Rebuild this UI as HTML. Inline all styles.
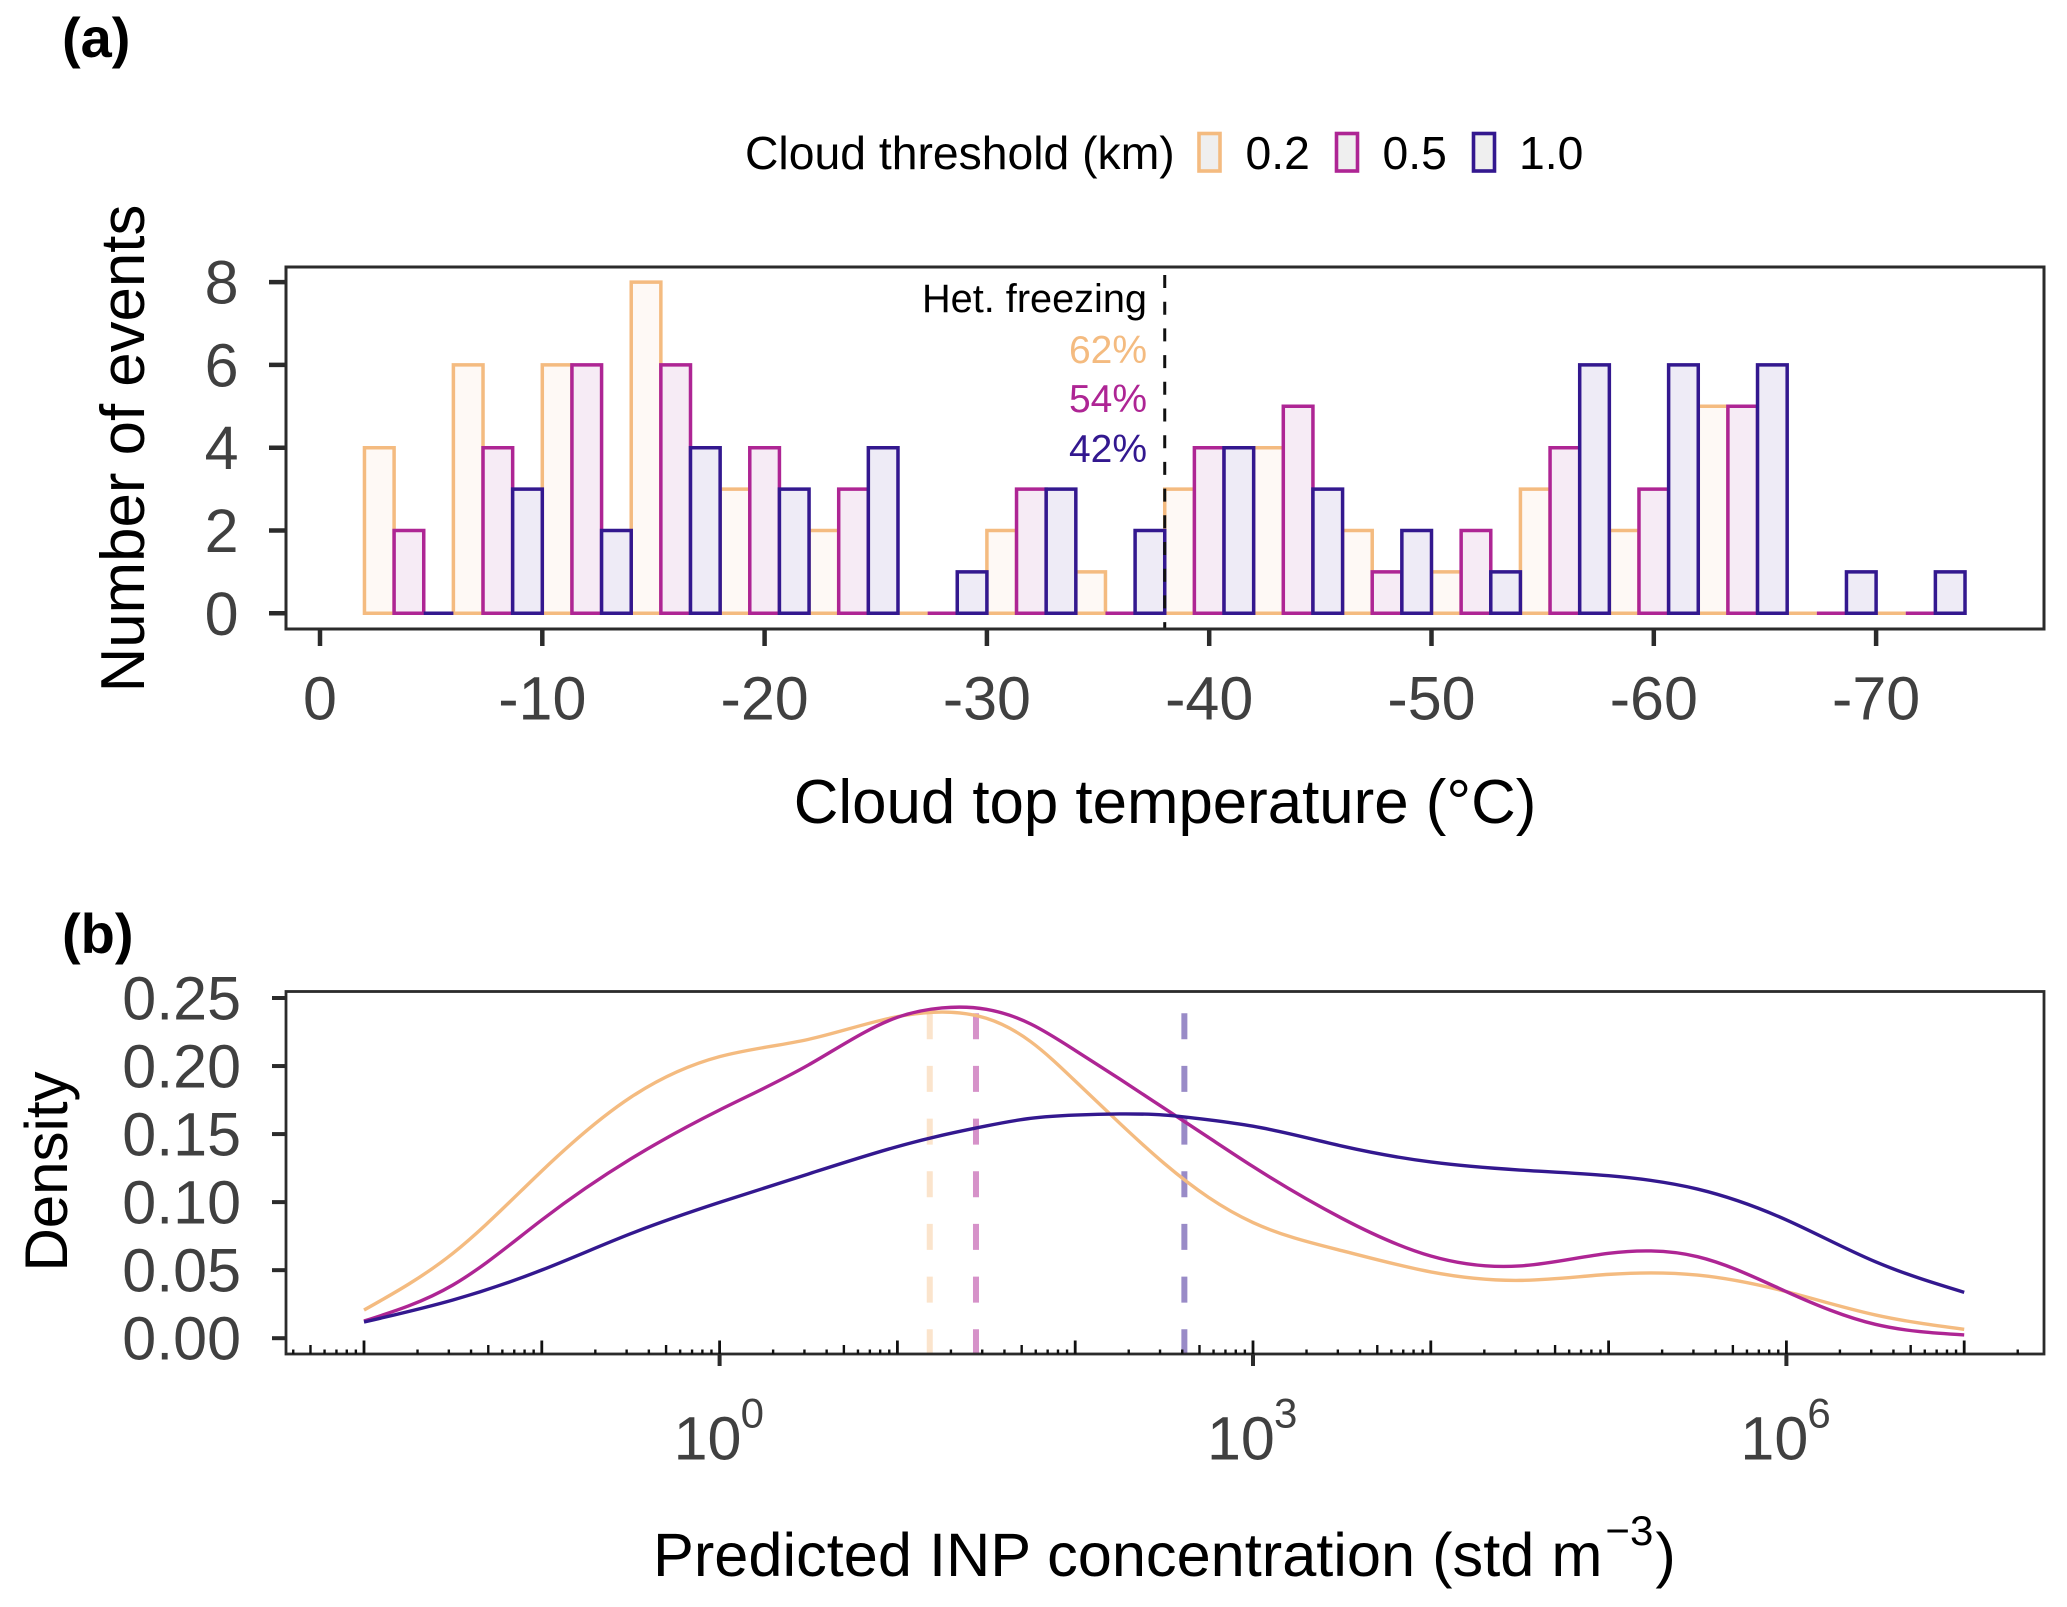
<!DOCTYPE html>
<html lang="en">
<head>
<meta charset="utf-8">
<title>Cloud top temperature and predicted INP concentration</title>
<style>
html,body{margin:0;padding:0;background:#fff;}
svg{display:block;}
text{font-family:"Liberation Sans",Arial,sans-serif;}
</style>
</head>
<body>
<svg id="chart" xmlns="http://www.w3.org/2000/svg" width="2067" height="1607" viewBox="0 0 2067 1607">
  <rect x="0" y="0" width="2067" height="1607" fill="#fff"/>
  <text x="62" y="57" font-size="56" font-weight="bold" fill="#000">(a)</text>
  <text x="62" y="953" font-size="56" font-weight="bold" fill="#000">(b)</text>

  <g>
    <text x="745" y="169" font-size="46.3" fill="#000">Cloud threshold (km)</text>
    <rect x="1199" y="133.5" width="21" height="37.5" fill="#efefef" stroke="#f4bb80" stroke-width="3.6"/>
    <text x="1245.5" y="169" font-size="46.3" fill="#000">0.2</text>
    <rect x="1336.5" y="133.5" width="21" height="37.5" fill="#efefef" stroke="#ae2594" stroke-width="3.6"/>
    <text x="1382.5" y="169" font-size="46.3" fill="#000">0.5</text>
    <rect x="1473.5" y="133.5" width="21" height="37.5" fill="#efefef" stroke="#33188f" stroke-width="3.6"/>
    <text x="1519" y="169" font-size="46.3" fill="#000">1.0</text>
  </g>

  <g id="panelA"></g>

  <g text-anchor="end" font-size="39">
    <text x="1147" y="312" font-size="39.7" fill="#000">Het. freezing</text>
    <text x="1147" y="363" fill="#f4bb80">62%</text>
    <text x="1147" y="412" fill="#ae2594">54%</text>
    <text x="1147" y="462" fill="#33188f">42%</text>
  </g>

  <text transform="translate(144,448.5) rotate(-90)" text-anchor="middle" font-size="61.8" fill="#000">Number of events</text>
  <text x="1165" y="823" text-anchor="middle" font-size="61.8" fill="#000">Cloud top temperature (°C)</text>

  <g id="panelB"></g>

  <text transform="translate(67,1171.5) rotate(-90)" text-anchor="middle" font-size="60" fill="#000">Density</text>
  <text x="653" y="1576" font-size="61.3" fill="#000">Predicted INP concentration (std m<tspan font-size="42" dx="3" dy="-31">−3</tspan><tspan font-size="61.3" dx="2" dy="31">)</tspan></text>
</svg>

<script>
// ---------- Panel (a) data ----------
var binCentres = [-4,-8,-12,-16,-20,-24,-28,-32,-36,-40,-44,-48,-52,-56,-60,-64,-68,-72];
var counts02 = [4,6,6,8,3,2,0,2,1,3,4,2,1,3,2,5,0,0];
var counts05 = [2,4,6,6,4,3,0,3,0,4,5,1,2,4,3,5,0,0];
var counts10 = [0,3,2,4,3,4,1,3,2,4,3,2,1,6,6,6,1,1];
var tempTicks = [0,-10,-20,-30,-40,-50,-60,-70];
var countTicks = [0,2,4,6,8];
var hetThreshold = -38;
var binWidth = 4;

// ---------- Panel (b) data ----------
var logConcentration = [-2,-1.5,-1,-0.5,0,0.5,1,1.25,1.5,1.75,2,2.25,2.5,2.75,3,3.5,4,4.5,5,5.5,6,6.5,7];
var density02 = [0.0207,0.0624,0.1229,0.1770,0.2069,0.2196,0.2363,0.2397,0.2351,0.2179,0.1890,0.1580,0.1285,0.1035,0.0850,0.0643,0.0487,0.0425,0.0469,0.0464,0.0342,0.0171,0.0065];
var density05 = [0.0126,0.0391,0.0869,0.1317,0.1677,0.2008,0.2358,0.2427,0.2417,0.2309,0.2115,0.1905,0.1690,0.1475,0.1261,0.0881,0.0604,0.0531,0.0624,0.0599,0.0342,0.0102,0.0024];
var density10 = [0.0119,0.0281,0.0501,0.0768,0.0998,0.1207,0.1408,0.1491,0.1560,0.1616,0.1640,0.1648,0.1640,0.1605,0.1558,0.1412,0.1295,0.1236,0.1194,0.1096,0.0869,0.0562,0.0337];
var medianLog = [1.182,1.442,2.614];
var medianTop = 0.2388;
var densityTicks = ["0.00","0.05","0.10","0.15","0.20","0.25"];
var majorExponents = ["0","3","6"];

// ---------- Scales ----------
var frameA = {l:286, r:2044, t:267, b:629};
var frameB = {l:286, r:2044, t:991.5, b:1354};
function xA(t){ return 320 + (-t) * 22.23; }
function yA(c){ return 613.3 - c * 41.4; }
function xB(lg){ return 719.6 + lg * 177.8; }
function yB(d){ return 1338.2 - d * 1360.8; }

var SVGNS = "http://www.w3.org/2000/svg";
function mk(parent, tag, props, txt){
  var e = document.createElementNS(SVGNS, tag);
  for (var k in props){ e.setAttribute(k, props[k]); }
  if (txt !== undefined){ e.textContent = txt; }
  parent.appendChild(e);
  return e;
}
var el;
var gA = document.getElementById("panelA");
var gB = document.getElementById("panelB");
var TICK = "#2b2b2b", LABEL = "#404040", TICKFONT = 61;

// ---------- Panel (a) ----------
var seriesA = [
  {name:"0.2", values:counts02, stroke:"#f4bb80", fill:"#fef9f5"},
  {name:"0.5", values:counts05, stroke:"#ae2594", fill:"#f6ebf5"},
  {name:"1.0", values:counts10, stroke:"#33188f", fill:"#eeebf6"}
];
seriesA.forEach(function(s, si){
  s.values.forEach(function(v, i){
    var left = binCentres[i] + binWidth/2 - si * binWidth/3;
    var right = left - binWidth/3;
    var d = "M" + xA(left) + " " + yA(0) + "V" + yA(v) + "H" + xA(right) + "V" + yA(0) + "Z";
    el = mk(gA, "path", {d:d, fill:s.fill, stroke:s.stroke, "stroke-width":3.5});
    
    
  });
});
el = mk(gA, "line", {x1:xA(hetThreshold), x2:xA(hetThreshold), y1:275, y2:frameA.b, stroke:"#111", "stroke-width":3, "stroke-dasharray":"13 13.7"});


el = mk(gA, "rect", {x:frameA.l, y:frameA.t, width:frameA.r-frameA.l, height:frameA.b-frameA.t, fill:"none", stroke:TICK, "stroke-width":3});


tempTicks.forEach(function(t){
  el = mk(gA, "line", {x1:xA(t), x2:xA(t), y1:frameA.b, y2:frameA.b+17, stroke:TICK, "stroke-width":4.5});
  
  
  el = mk(gA, "text", {x:xA(t), y:719.5, "text-anchor":"middle", "font-size":TICKFONT, fill:LABEL}, String(t));
  
  
});
countTicks.forEach(function(c){
  el = mk(gA, "line", {x1:frameA.l-17, x2:frameA.l, y1:yA(c), y2:yA(c), stroke:TICK, "stroke-width":4.5});
  
  
  el = mk(gA, "text", {x:238.5, y:yA(c)+21.5, "text-anchor":"end", "font-size":TICKFONT, fill:LABEL}, String(c));
  
  
});

// ---------- Panel (b) ----------
// natural cubic spline through the read values, emitted as bezier segments
function smoothPath(xs, ys){
  var X = xs.map(xB), Y = ys.map(yB), n = X.length;
  var h = [], i;
  for (i = 0; i < n-1; i++){ h[i] = X[i+1]-X[i]; }
  var c = [0], r = [0];
  for (i = 1; i < n-1; i++){
    var rhs = 6*((Y[i+1]-Y[i])/h[i] - (Y[i]-Y[i-1])/h[i-1]);
    var den = 2*(h[i-1]+h[i]) - h[i-1]*c[i-1];
    c[i] = h[i]/den;
    r[i] = (rhs - h[i-1]*r[i-1])/den;
  }
  var M = new Array(n).fill(0);
  for (i = n-2; i > 0; i--){ M[i] = r[i] - c[i]*M[i+1]; }
  var d = "M" + X[0].toFixed(2) + " " + Y[0].toFixed(2);
  for (i = 0; i < n-1; i++){
    var s0 = (Y[i+1]-Y[i])/h[i] - h[i]*(2*M[i]+M[i+1])/6;
    var s1 = (Y[i+1]-Y[i])/h[i] + h[i]*(M[i]+2*M[i+1])/6;
    d += "C" + (X[i]+h[i]/3).toFixed(2) + " " + (Y[i]+s0*h[i]/3).toFixed(2) + " " +
         (X[i+1]-h[i]/3).toFixed(2) + " " + (Y[i+1]-s1*h[i]/3).toFixed(2) + " " +
         X[i+1].toFixed(2) + " " + Y[i+1].toFixed(2);
  }
  return d;
}
var colorsB = ["#f4bb80", "#ae2594", "#33188f"];
var opacityB = [0.4, 0.5, 0.5];
var namesB = ["0.2", "0.5", "1.0"];
medianLog.forEach(function(m, i){
  el = mk(gB, "line", {x1:xB(m), x2:xB(m), y1:yB(medianTop), y2:frameB.b, stroke:colorsB[i], "stroke-opacity":opacityB[i], "stroke-width":6, "stroke-dasharray":"26 26.67"});
  
  
});
el = mk(gB, "path", {d:smoothPath(logConcentration, density02), fill:"none", stroke:colorsB[0], "stroke-width":3.4});


el = mk(gB, "path", {d:smoothPath(logConcentration, density05), fill:"none", stroke:colorsB[1], "stroke-width":3.4});


el = mk(gB, "path", {d:smoothPath(logConcentration, density10), fill:"none", stroke:colorsB[2], "stroke-width":3.4});


el = mk(gB, "rect", {x:frameB.l, y:frameB.t, width:frameB.r-frameB.l, height:frameB.b-frameB.t, fill:"none", stroke:TICK, "stroke-width":2.8});



// log ticks (inside, one set per decade)
for (var dec = -3; dec <= 7; dec++){
  for (var m = 1; m <= 9; m++){
    var px = xB(dec + Math.log10(m));
    if (px <= frameB.l + 2 || px >= frameB.r - 2) continue;
    var tickH = m === 1 ? 13.5 : (m === 5 ? 9 : 4.5);
    el = mk(gB, "line", {x1:px, x2:px, y1:frameB.b-tickH, y2:frameB.b, stroke:"#111", "stroke-width":m === 1 ? 2.8 : 2.4});
    
    
  }
}
majorExponents.forEach(function(ex){
  var px = xB(Number(ex));
  el = mk(gB, "line", {x1:px, x2:px, y1:frameB.b, y2:frameB.b+12, stroke:TICK, "stroke-width":4});
  
  
  el = mk(gB, "text", {x:px-46, y:1459.5, "font-size":TICKFONT, fill:LABEL}, "10");
  
  
  el = mk(gB, "text", {x:px+21, y:1427.5, "font-size":42, fill:LABEL}, ex);
  
  
});
densityTicks.forEach(function(lbl){
  var v = Number(lbl);
  el = mk(gB, "line", {x1:frameB.l-14, x2:frameB.l, y1:yB(v), y2:yB(v), stroke:TICK, "stroke-width":4});
  
  
  el = mk(gB, "text", {x:241, y:yB(v)+21.5, "text-anchor":"end", "font-size":TICKFONT, fill:LABEL}, lbl);
  
  
});
</script>
</body>
</html>
